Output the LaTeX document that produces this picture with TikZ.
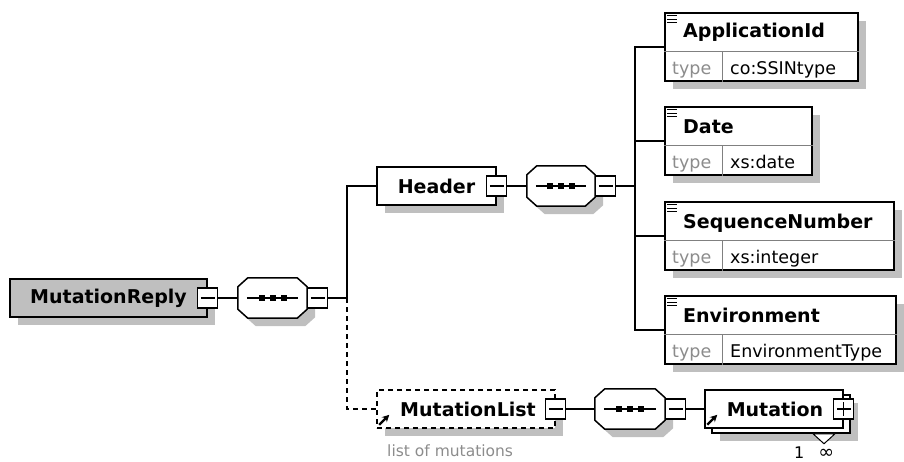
\documentclass[tikz,border=0pt]{standalone}
\usepackage{fontspec}
\setmainfont{DejaVu Sans}
\usetikzlibrary{shadows,arrows.meta}

\tikzset{
 shade box/.style={drop shadow={shadow xshift=8pt, shadow yshift=-8pt, fill=black!25, opacity=1}},
 box/.style={draw, line width=1.5pt, fill=white, inner sep=0pt, minimum height=38pt, font=\fontsize{19}{21}\selectfont\bfseries},
 seq/.style={inner sep=0pt, minimum width=69pt, minimum height=40pt},
 minusbox/.style={draw, line width=1.2pt, fill=white, minimum size=20pt, inner sep=0pt,
   path picture={\draw[line width=1.2pt] ([xshift=3pt]path picture bounding box.west) -- ([xshift=-3pt]path picture bounding box.east);}},
 plusbox/.style={minusbox,
   path picture={\draw[line width=1.2pt] ([xshift=3pt]path picture bounding box.west) -- ([xshift=-3pt]path picture bounding box.east);
     \draw[line width=1.2pt] ([yshift=-3pt]path picture bounding box.north) -- ([yshift=3pt]path picture bounding box.south);}},
 elem/.style={draw, line width=1.5pt, fill=white, inner sep=0pt, minimum height=68pt, shade box},
 title/.style={anchor=base west, inner sep=0pt, font=\fontsize{19}{21}\selectfont\bfseries},
 typelabel/.style={anchor=base west, inner sep=0pt, text=black!45, font=\fontsize{17.5}{20}\selectfont},
 typevalue/.style={anchor=base west, inner sep=0pt, font=\fontsize{17.5}{20}\selectfont},
 divider/.style={draw=black!50, line width=1pt},
 conn/.style={line width=1.3pt},
 optional/.style={dash pattern=on 5pt off 4pt},
 refarrow/.style={line width=2.4pt, -{Stealth[length=7pt,width=7pt]}}
}

%octagon of a sequence compositor
\newcommand{\seqshape}[1]{%
 \draw[line width=1.5pt, fill=white, shade box] ([xshift=10pt]#1.north west) -- ([xshift=-10pt]#1.north east)
   -- ([yshift=-9pt]#1.north east) -- ([yshift=9pt]#1.south east) -- ([xshift=-10pt]#1.south east)
   -- ([xshift=10pt]#1.south west) -- ([yshift=9pt]#1.south west) -- ([yshift=-9pt]#1.north west) -- cycle;
 \draw[line width=1.3pt] ([xshift=9pt]#1.west) -- ([xshift=-9pt]#1.east);
 \foreach \d in {-11,0,11}
   \fill ([xshift=\d pt-3pt, yshift=-3pt]#1.center) rectangle +(6pt,6pt);
}

\begin{document}
\begin{tikzpicture}[x=1pt, y=-1pt]
 \useasboundingbox (0,0) rectangle (904,461);

 %root element
 \node[box, shade box, fill=black!25, minimum width=197pt] (reply) at (108.5,298) {MutationReply};
 \node[minusbox] (replym) at (reply.east) {};

 %first sequence
 \node[seq] (seq1) at (272.5,298) {};
 \seqshape{seq1}
 \node[minusbox, anchor=west] (seq1m) at (seq1.east) {};
 \coordinate (j1) at (347,298);

 %header branch
 \node[box, shade box, minimum width=119pt] (header) at (436.5,186) {Header};
 \node[minusbox] (headerm) at (header.east) {};
 \node[seq, minimum width=68pt] (seq2) at (561,186) {};
 \seqshape{seq2}
 \node[minusbox, anchor=west] (seq2m) at (seq2.east) {};
 \coordinate (j2) at (635,186);

 %header children
 \node[elem, minimum width=193pt] (appid) at (761.5,47) {};
 \node[elem, minimum width=147pt] (date) at (738.5,141) {};
 \node[elem, minimum width=229pt] (seqnum) at (779.5,236) {};
 \node[elem, minimum width=231pt] (env) at (780.5,330) {};

 %type rows
 \draw[divider] ([yshift=30pt]appid.south west) -- ([yshift=30pt]appid.south east);
 \draw[divider] ([xshift=58pt]appid.south west) -- ([xshift=58pt,yshift=30pt]appid.south west);
 \draw[divider] ([yshift=30pt]date.south west) -- ([yshift=30pt]date.south east);
 \draw[divider] ([xshift=58pt]date.south west) -- ([xshift=58pt,yshift=30pt]date.south west);
 \draw[divider] ([yshift=30pt]seqnum.south west) -- ([yshift=30pt]seqnum.south east);
 \draw[divider] ([xshift=58pt]seqnum.south west) -- ([xshift=58pt,yshift=30pt]seqnum.south west);
 \draw[divider] ([yshift=30pt]env.south west) -- ([yshift=30pt]env.south east);
 \draw[divider] ([xshift=58pt]env.south west) -- ([xshift=58pt,yshift=30pt]env.south west);

 %element icons
 \foreach \e in {appid,date,seqnum,env}
   \foreach \k in {3.5,7,10.5}
     \draw[line width=1.2pt] ([xshift=3pt,yshift=-\k pt]\e.north west) -- ([xshift=13pt,yshift=-\k pt]\e.north west);

 %names and types
 \node[title] (appidt) at (683,37) {ApplicationId};
 \node[typelabel] (appidl) at (672,74) {type};
 \node[typevalue] (appidv) at (730,74) {co:SSINtype};
 \node[title] (datet) at (683,133) {Date};
 \node[typelabel] (datel) at (672,168) {type};
 \node[typevalue] (datev) at (730,168) {xs:date};
 \node[title] (seqnumt) at (683,228) {SequenceNumber};
 \node[typelabel] (seqnuml) at (672,263) {type};
 \node[typevalue] (seqnumv) at (730,263) {xs:integer};
 \node[title] (envt) at (683,322) {Environment};
 \node[typelabel] (envl) at (672,357) {type};
 \node[typevalue] (envv) at (730,357) {EnvironmentType};

 %mutation list branch
 \node[box, shade box, optional, minimum width=178pt] (mlist) at (466,409) {\hspace*{4pt}MutationList};
 \node[minusbox] (mlistm) at (mlist.east) {};
 \node[typelabel, font=\fontsize{15.5}{18}\selectfont] (mlistdoc) at (387,456) {list of mutations};
 \node[seq, minimum width=70pt] (seq3) at (630,409) {};
 \seqshape{seq3}
 \node[minusbox, anchor=west] (seq3m) at (seq3.east) {};

 %repeated mutation
 \node[box, shade box, minimum width=138pt] (mutback) at (781,414) {};
 \node[box, minimum width=138pt] (mutation) at (774,409) {\hspace*{2pt}Mutation};
 \node[plusbox] (mutationp) at (mutation.east) {};
 \draw[line width=1pt, fill=white] ([xshift=32pt]mutback.south) -- ([xshift=54pt]mutback.south) -- ([xshift=43pt,yshift=-10pt]mutback.south) -- cycle;
 \node[typevalue, font=\fontsize{16}{18}\selectfont] (mult) at (794,458) {1\hspace{14pt}{\fontsize{19}{20}\selectfont ∞}};

 %reference arrows
 \draw[refarrow] ([xshift=3pt,yshift=4pt]mlist.south west) -- ([xshift=13pt,yshift=14pt]mlist.south west);
 \draw[refarrow] ([xshift=3pt,yshift=4pt]mutation.south west) -- ([xshift=13pt,yshift=14pt]mutation.south west);

 %connectors
 \draw[conn] (replym.east) -- (seq1.west);
 \draw[conn] (seq1m.east) -- (j1) |- (header.west);
 \draw[conn, optional] (j1) |- (mlist.west);
 \draw[conn] (headerm.east) -- (seq2.west);
 \draw[conn] (seq2m.east) -- (j2);
 \draw[conn] (j2) |- (appid.west);
 \draw[conn] (j2) |- (date.west);
 \draw[conn] (j2) |- (seqnum.west);
 \draw[conn] (j2) |- (env.west);
 \draw[conn] (mlistm.east) -- (seq3.west);
 \draw[conn] (seq3m.east) -- (mutation.west);
\end{tikzpicture}
\end{document}
